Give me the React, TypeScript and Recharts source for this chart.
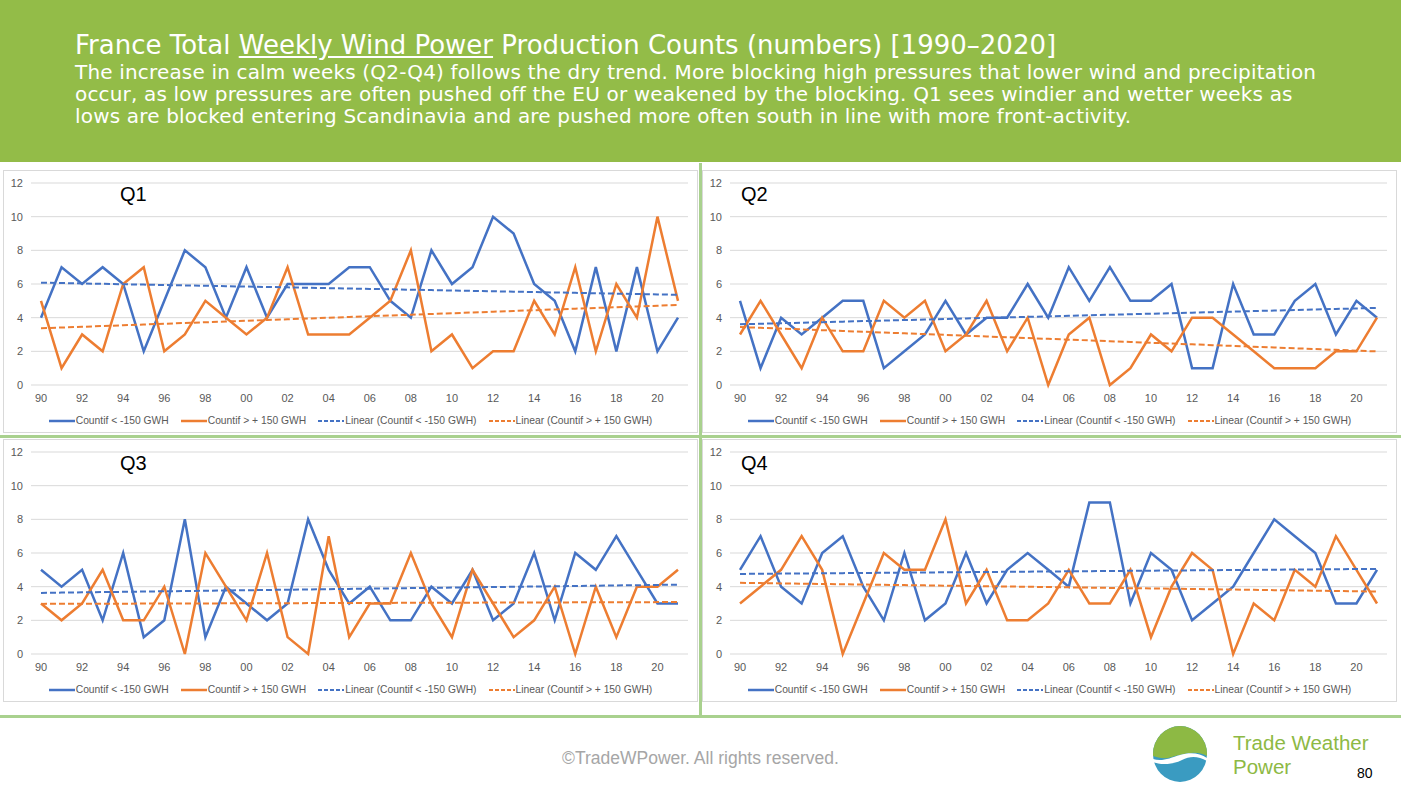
import { LineChart, Line, XAxis, YAxis, CartesianGrid } from 'recharts';

const YEARS = ['90','91','92','93','94','95','96','97','98','99','00','01','02','03','04','05','06','07','08','09','10','11','12','13','14','15','16','17','18','19','20','21'];
const Y_TICKS = [0, 2, 4, 6, 8, 10, 12];

// Countif < -150 GWH (calm weeks) / Countif > +150 GWH (windy weeks)
const Q1_LOW  = [4,7,6,7,6,2,5,8,7,4,7,4,6,6,6,7,7,5,4,8,6,7,10,9,6,5,2,7,2,7,2,4];
const Q1_HIGH = [5,1,3,2,6,7,2,3,5,4,3,4,7,3,3,3,4,5,8,2,3,1,2,2,5,3,7,2,6,4,10,5];
const Q2_LOW  = [5,1,4,3,4,5,5,1,2,3,5,3,4,4,6,4,7,5,7,5,5,6,1,1,6,3,3,5,6,3,5,4];
const Q2_HIGH = [3,5,3,1,4,2,2,5,4,5,2,3,5,2,4,0,3,4,0,1,3,2,4,4,3,2,1,1,1,2,2,4];
const Q3_LOW  = [5,4,5,2,6,1,2,8,1,4,3,2,3,8,5,3,4,2,2,4,3,5,2,3,6,2,6,5,7,5,3,3];
const Q3_HIGH = [3,2,3,5,2,2,4,0,6,4,2,6,1,0,7,1,3,3,6,3,1,5,3,1,2,4,0,4,1,4,4,5];
const Q4_LOW  = [5,7,4,3,6,7,4,2,6,2,3,6,3,5,6,5,4,9,9,3,6,5,2,3,4,6,8,7,6,3,3,5];
const Q4_HIGH = [3,4,5,7,5,0,3,6,5,5,8,3,5,2,2,3,5,3,3,5,1,4,6,5,0,3,2,5,4,7,5,3];

const BLUE = '#4472C4';
const ORANGE = '#ED7D31';
const GREEN = '#93BC48';
const LIGHT_GREEN = '#A9D18E';
const SANS = 'Liberation Sans, Arial, sans-serif';
const WIDE = 'DejaVu Sans, sans-serif';
const LEGEND = [
  { label: 'Countif < -150 GWH', color: BLUE, dash: false },
  { label: 'Countif > + 150 GWH', color: ORANGE, dash: false },
  { label: 'Linear (Countif < -150 GWH)', color: BLUE, dash: true },
  { label: 'Linear (Countif > + 150 GWH)', color: ORANGE, dash: true },
];

// least squares trend, like Excel's "Linear" trendline
function trend(v: number[]) {
  const n = v.length;
  const mx = (n - 1) / 2;
  const my = v.reduce((a, b) => a + b, 0) / n;
  let sxy = 0, sxx = 0;
  v.forEach((y, i) => { sxy += (i - mx) * (y - my); sxx += (i - mx) * (i - mx); });
  const b = sxy / sxx;
  return v.map((_, i) => my + b * (i - mx));
}

function Legend() {
  return (
    <div style={{ display: 'flex', justifyContent: 'center', alignItems: 'center', gap: 12, fontSize: 10.3, color: '#595959', fontFamily: SANS }}>
      {LEGEND.map(l => (
        <div key={l.label} style={{ display: 'flex', alignItems: 'center' }}>
          <svg width={26} height={6} style={{ marginRight: 1 }}>
            <line x1={0} y1={3} x2={26} y2={3} stroke={l.color} strokeWidth={l.dash ? 2 : 2.5} strokeDasharray={l.dash ? '4 2' : undefined} />
          </svg>
          <span>{l.label}</span>
        </div>
      ))}
    </div>
  );
}

function Panel({ name, low, high, left, top }: { name: string; low: number[]; high: number[]; left: number; top: number }) {
  const tl = trend(low), th = trend(high);
  const data = YEARS.map((y, i) => ({ year: y, low: low[i], high: high[i], tlow: tl[i], thigh: th[i] }));
  return (
    <div style={{ position: 'absolute', left, top, width: 695, height: 263, border: '1px solid #D9D9D9', boxSizing: 'border-box', background: '#fff' }}>
      <div style={{ position: 'absolute', left: name === 'Q1' || name === 'Q3' ? 116 : 38, top: 12, fontSize: 20, fontFamily: SANS, color: '#000' }}>{name}</div>
      <LineChart width={693} height={240} data={data} margin={{ top: 12, right: 9, bottom: 0, left: 0 }}>
        <CartesianGrid vertical={false} stroke="#D9D9D9" />
        <XAxis dataKey="year" interval={1} axisLine={false} tickLine={false} tickSize={0} tickMargin={9} height={26}
          padding={{ left: 10, right: 10 }} tick={{ fill: '#595959', fontSize: 11, fontFamily: SANS }} />
        <YAxis domain={[0, 12]} ticks={Y_TICKS} width={27} axisLine={false} tickLine={false} tickSize={0} tickMargin={8}
          tick={{ fill: '#595959', fontSize: 11, fontFamily: SANS }} />
        <Line dataKey="low" stroke={BLUE} strokeWidth={2.5} dot={false} isAnimationActive={false} />
        <Line dataKey="high" stroke={ORANGE} strokeWidth={2.5} dot={false} isAnimationActive={false} />
        <Line dataKey="tlow" stroke={BLUE} strokeWidth={2} strokeDasharray="6 3" dot={false} isAnimationActive={false} />
        <Line dataKey="thigh" stroke={ORANGE} strokeWidth={2} strokeDasharray="6 3" dot={false} isAnimationActive={false} />
      </LineChart>
      <div style={{ position: 'absolute', left: 0, right: 0, top: 244 }}><Legend /></div>
    </div>
  );
}

export default function App() {
  return (
    <div style={{ position: 'absolute', left: 0, top: 0, width: 1401, height: 788, background: '#fff', overflow: 'hidden', fontFamily: SANS }}>
      <div style={{ position: 'absolute', left: 0, top: 0, width: 1401, height: 162, background: GREEN, color: '#fff', fontFamily: WIDE }}>
        <div style={{ position: 'absolute', left: 75, top: 30, fontSize: 26, whiteSpace: 'nowrap' }}>
          France Total <span style={{ textDecoration: 'underline' }}>Weekly Wind Power</span> Production Counts (numbers) [1990–2020]
        </div>
        <div style={{ position: 'absolute', left: 75, top: 61, fontSize: 20, lineHeight: '22px', width: 1320, whiteSpace: 'nowrap', letterSpacing: 0.17 }}>
          The increase in calm weeks (Q2-Q4) follows the dry trend. More blocking high pressures that lower wind and precipitation<br />
          occur, as low pressures are often pushed off the EU or weakened by the blocking. Q1 sees windier and wetter weeks as<br />
          lows are blocked entering Scandinavia and are pushed more often south in line with more front-activity.
        </div>
      </div>
      <Panel name="Q1" low={Q1_LOW} high={Q1_HIGH} left={3} top={170} />
      <Panel name="Q2" low={Q2_LOW} high={Q2_HIGH} left={702} top={170} />
      <Panel name="Q3" low={Q3_LOW} high={Q3_HIGH} left={3} top={439} />
      <Panel name="Q4" low={Q4_LOW} high={Q4_HIGH} left={702} top={439} />
      <div style={{ position: 'absolute', left: 699, top: 163, width: 3, height: 554, background: LIGHT_GREEN }} />
      <div style={{ position: 'absolute', left: 0, top: 435, width: 1401, height: 3, background: LIGHT_GREEN }} />
      <div style={{ position: 'absolute', left: 0, top: 715, width: 1401, height: 3, background: LIGHT_GREEN }} />
      <div style={{ position: 'absolute', left: 562, top: 748, fontSize: 17.5, color: '#A6A6A6' }}>©TradeWPower. All rights reserved.</div>
      <svg style={{ position: 'absolute', left: 1150, top: 725 }} width={62} height={60}>
        <ellipse cx={30} cy={29} rx={27} ry={28} fill="#3A9BC1" />
        <path d="M3,29 A27,28 0 0 1 57,29 L57,31 C45,24 30,30 18,33 C12,34 7,32 3,31 Z" fill="#8DB944" />
        <path d="M3,34 C12,37 20,33 30,30 C40,27 50,28 57,33 L57,36 C48,31 40,31 32,35 C22,40 10,40 3,37 Z" fill="#fff" />
      </svg>
      <div style={{ position: 'absolute', left: 1233, top: 731, fontSize: 20.5, lineHeight: '24px', color: '#8DB944' }}>Trade Weather<br />Power</div>
      <div style={{ position: 'absolute', left: 1357, top: 765, fontSize: 14, color: '#000' }}>80</div>
    </div>
  );
}
